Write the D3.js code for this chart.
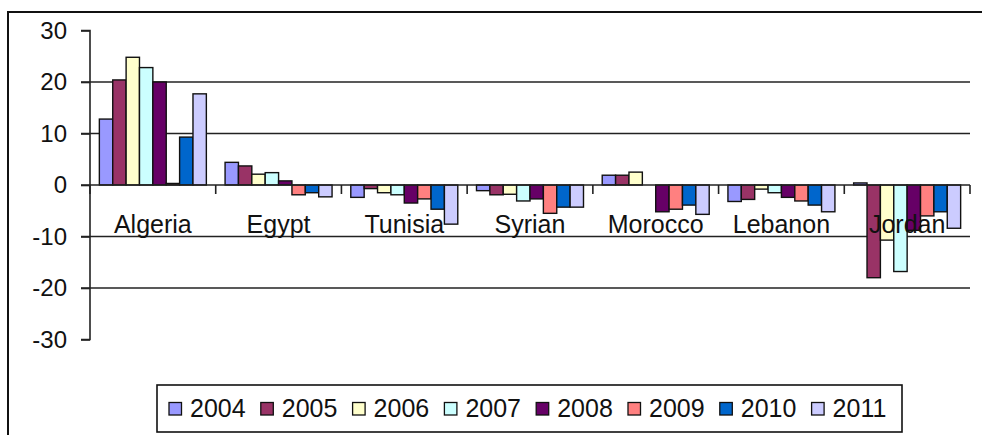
<!DOCTYPE html>
<html>
<head>
<meta charset="utf-8">
<script src="https://cdn.jsdelivr.net/npm/d3@7"></script>
<style>
  body { margin: 0; background: #fff; }
  svg { display: block; font-family: Arial, "Liberation Sans", sans-serif; }
</style>
</head>
<body>
<svg width="982" height="435"></svg>
<script>
const countries = ["Algeria", "Egypt", "Tunisia", "Syrian", "Morocco", "Lebanon", "Jordan"];
const years = ["2004", "2005", "2006", "2007", "2008", "2009", "2010", "2011"];
const colors = ["#9999ff", "#993366", "#ffffcc", "#ccffff", "#660066", "#ff8080", "#0066cc", "#ccccff"];
const yTicks = [30, 20, 10, 0, -10, -20, -30];

// values per year, in country order
const v2004 = [12.8, 4.4, -2.4, -1.1, 1.9, -3.2, 0.4];
const v2005 = [20.4, 3.7, -0.7, -1.9, 1.9, -2.8, -18.0];
const v2006 = [24.8, 2.1, -1.5, -1.8, 2.5, -0.8, -10.7];
const v2007 = [22.8, 2.4, -1.9, -3.1, 0, -1.5, -16.8];
const v2008 = [20.0, 0.8, -3.5, -2.7, -5.2, -2.4, -8.8];
const v2009 = [0.3, -1.9, -2.7, -5.5, -4.7, -3.1, -6.0];
const v2010 = [9.3, -1.5, -4.7, -4.3, -3.9, -3.9, -5.2];
const v2011 = [17.7, -2.3, -7.6, -4.3, -5.7, -5.2, -8.4];
const series = [v2004, v2005, v2006, v2007, v2008, v2009, v2010, v2011];

const svg = d3.select("svg");

// outer frame
svg.append("rect")
  .attr("x", 8).attr("y", 12)
  .attr("width", 990).attr("height", 440)
  .attr("fill", "none").attr("stroke", "#111").attr("stroke-width", 2);

const x0 = d3.scaleBand().domain(countries).range([90, 970]).padding(0);
const x1 = d3.scaleBand().domain(years).range([0, x0.bandwidth()])
  .paddingInner(0).paddingOuter(0.7);
const y = d3.scaleLinear().domain([-30, 30]).range([339.5, 30.5]);

// gridlines
svg.append("g").selectAll("line")
  .data(yTicks.filter(t => t !== 30 && t !== -30 && t !== 0))
  .join("line")
  .attr("x1", 81).attr("x2", 970)
  .attr("y1", d => y(d)).attr("y2", d => y(d))
  .attr("stroke", "#222").attr("stroke-width", 1.6);

// y axis
const yAxis = svg.append("g")
  .attr("transform", "translate(90,0)")
  .call(d3.axisLeft(y).tickValues(yTicks).tickSize(9).tickPadding(14)
    .tickFormat(d => String(d)));
yAxis.select(".domain").attr("stroke", "#222").attr("stroke-width", 1.6)
  .attr("d", `M-9,${y(30)}H0V${y(-30)}H-9`);
yAxis.selectAll(".tick line").attr("stroke", "#222").attr("stroke-width", 1.6);
yAxis.selectAll(".tick text")
  .attr("font-size", 24).attr("fill", "#111")
  .attr("font-family", "Arial, 'Liberation Sans', sans-serif");

// bars
const groups = svg.append("g").selectAll("g")
  .data(countries)
  .join("g")
  .attr("transform", d => `translate(${x0(d)},0)`);

groups.selectAll("rect")
  .data((c, ci) => years.map((yr, yi) => ({ yr, yi, v: series[yi][ci] })))
  .join("rect")
  .filter(d => d.v !== 0)
  .attr("x", d => x1(d.yr))
  .attr("width", x1.bandwidth())
  .attr("y", d => y(Math.max(0, d.v)))
  .attr("height", d => Math.abs(y(d.v) - y(0)))
  .attr("fill", d => colors[d.yi])
  .attr("stroke", "#111").attr("stroke-width", 1.4);

// zero axis with category ticks
const xAxis = svg.append("g")
  .attr("transform", `translate(0,${y(0)})`);
xAxis.append("line")
  .attr("x1", 81).attr("x2", 970)
  .attr("stroke", "#222").attr("stroke-width", 1.6);
xAxis.selectAll(".ctick")
  .data(countries.concat(["end"]))
  .join("line")
  .attr("class", "ctick")
  .attr("x1", (d, i) => i < countries.length ? x0(d) : 970)
  .attr("x2", (d, i) => i < countries.length ? x0(d) : 970)
  .attr("y1", 0).attr("y2", 9)
  .attr("stroke", "#222").attr("stroke-width", 1.6);

// category labels (drawn over the bars)
svg.append("g").selectAll("text")
  .data(countries)
  .join("text")
  .attr("x", d => x0(d) + x0.bandwidth() / 2)
  .attr("y", 233)
  .attr("text-anchor", "middle")
  .attr("font-size", 25)
  .attr("fill", "#111")
  .text(d => d);

// legend
const legend = svg.append("g");
legend.append("rect")
  .attr("x", 157).attr("y", 385)
  .attr("width", 745).attr("height", 47)
  .attr("fill", "#fff").attr("stroke", "#111").attr("stroke-width", 1.6);

const items = legend.selectAll(".item")
  .data(years)
  .join("g")
  .attr("class", "item")
  .attr("transform", (d, i) => `translate(${169 + i * 91.8},0)`);
items.append("rect")
  .attr("x", 0).attr("y", 402.5)
  .attr("width", 12.5).attr("height", 12.5)
  .attr("fill", (d, i) => colors[i])
  .attr("stroke", "#111").attr("stroke-width", 1.3);
items.append("text")
  .attr("x", 21).attr("y", 417)
  .attr("font-size", 25)
  .attr("fill", "#111")
  .text(d => d);
</script>
</body>
</html>
